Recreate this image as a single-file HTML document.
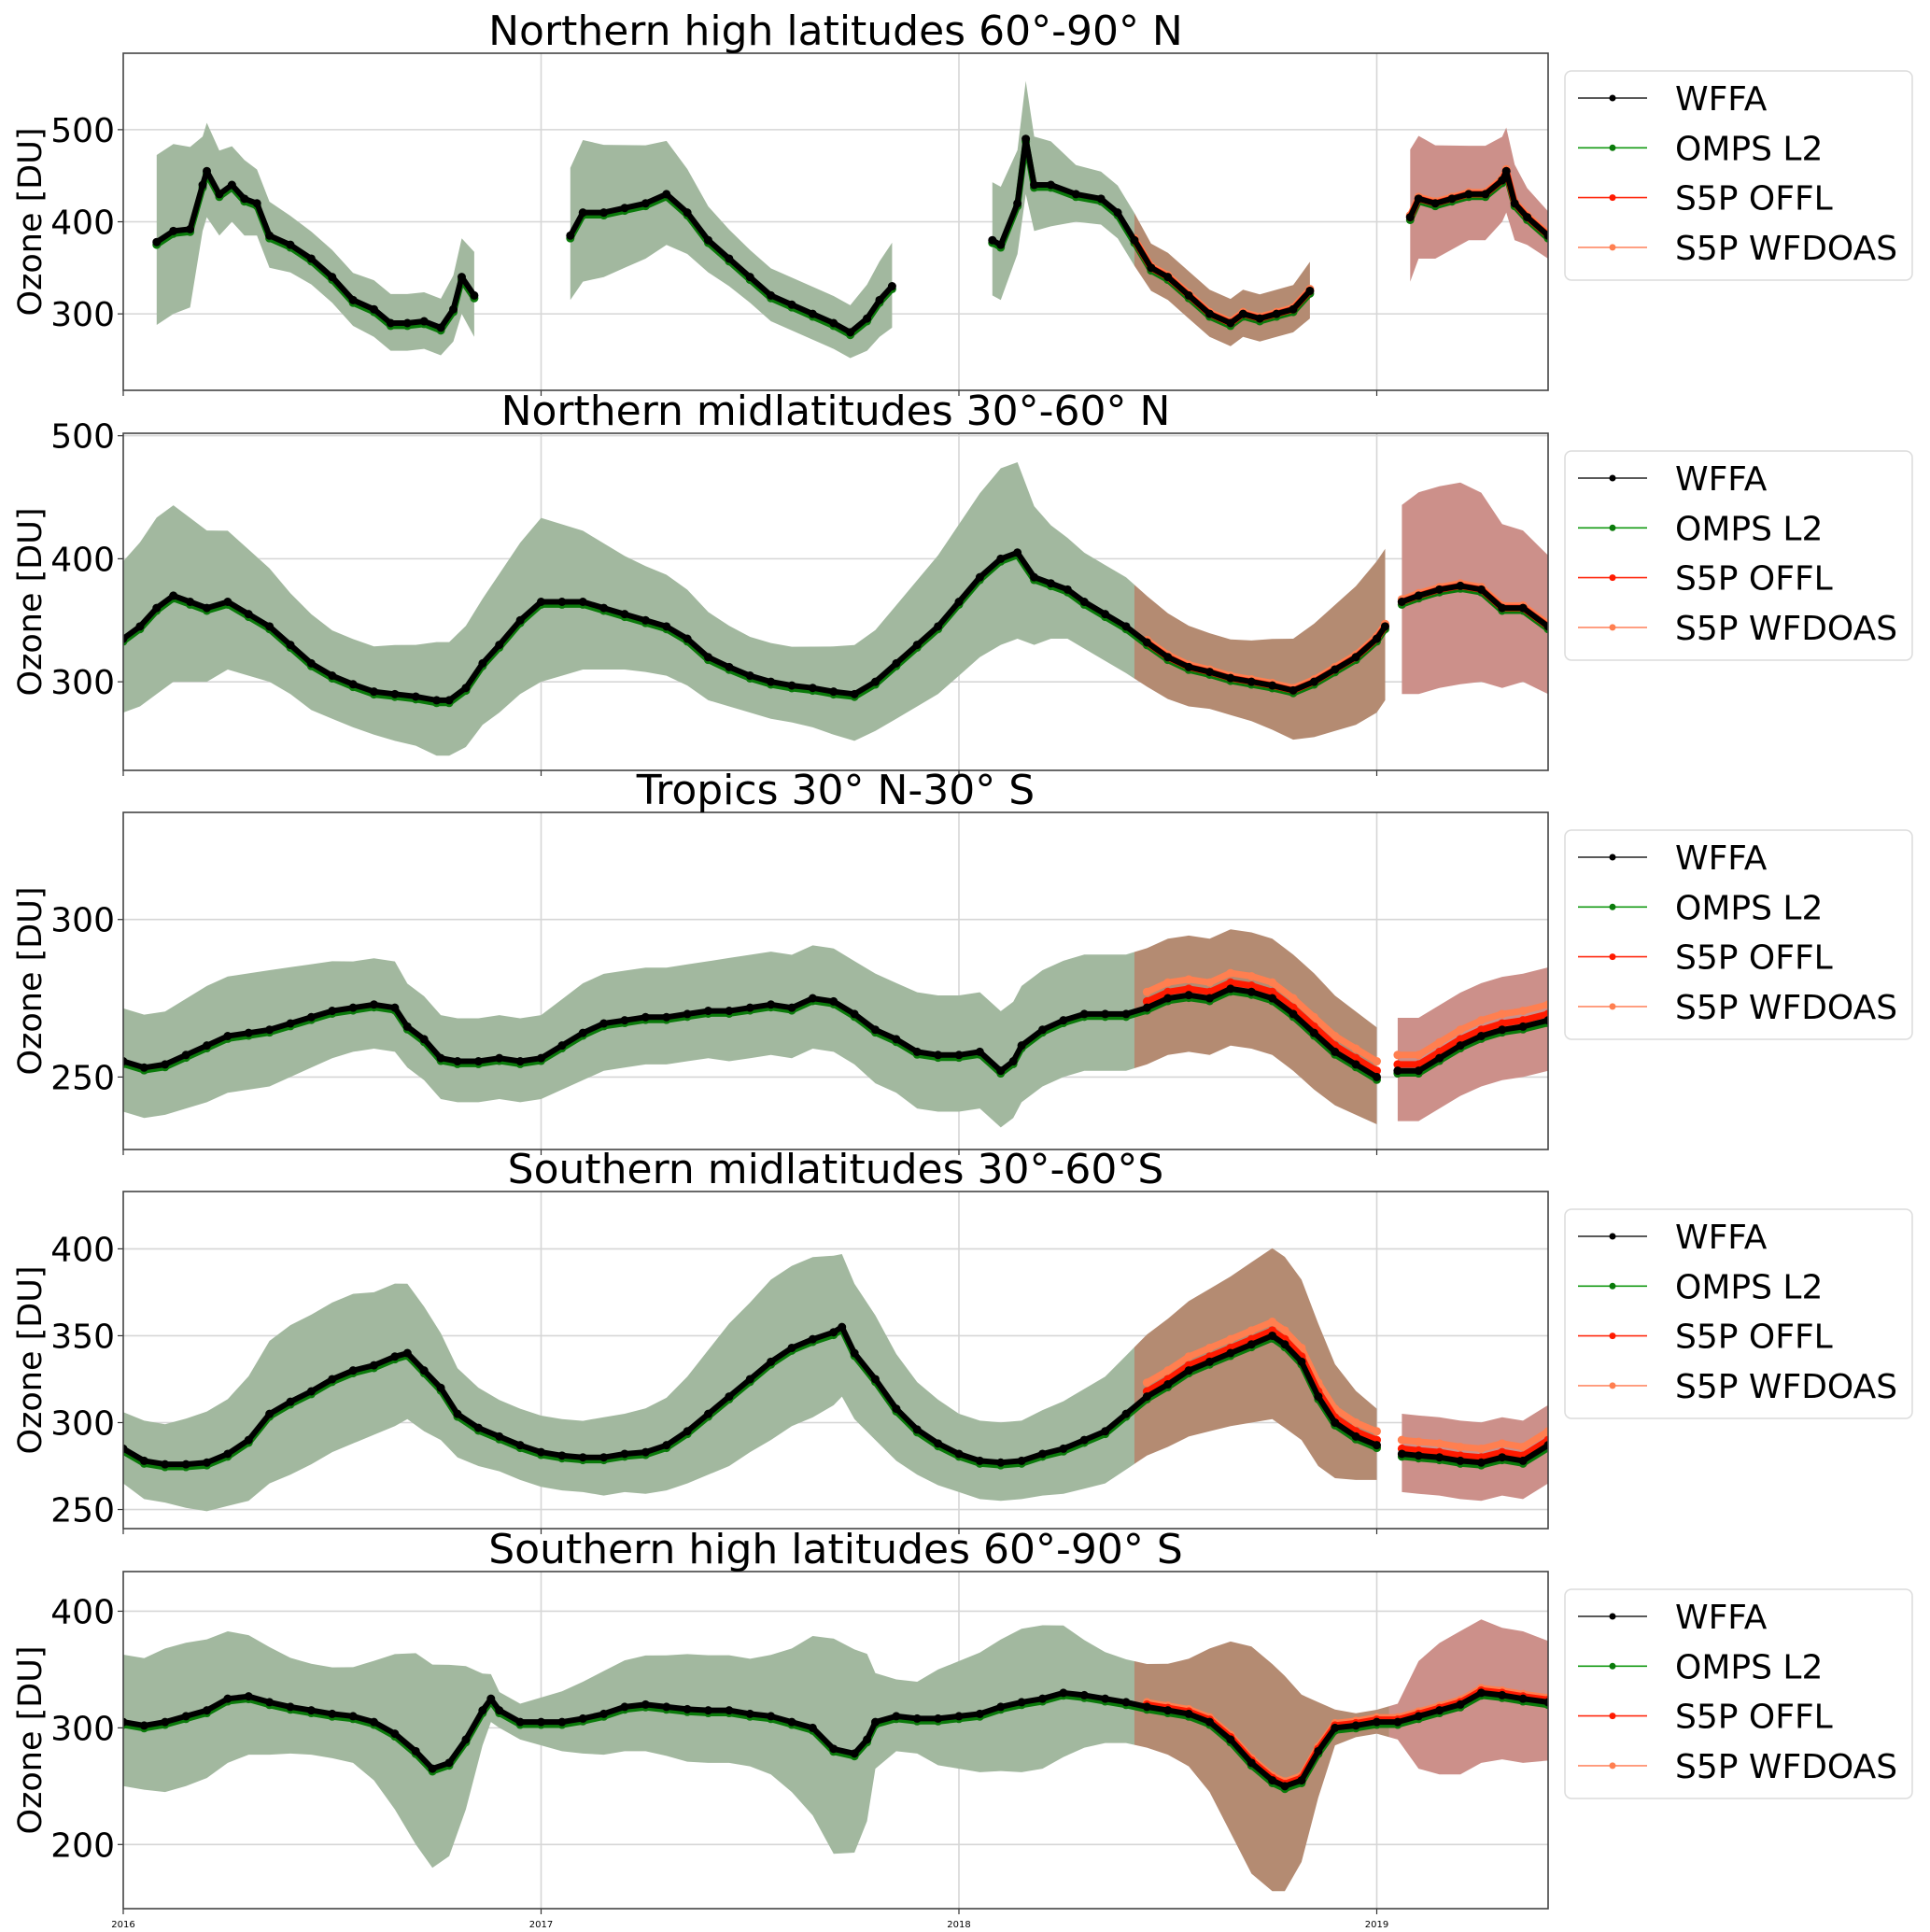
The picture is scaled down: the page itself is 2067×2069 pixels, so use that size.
<!DOCTYPE html>
<html><head><meta charset="utf-8"><style>
html,body{margin:0;padding:0;background:#fff;}
svg{display:block;font-family:"DejaVu Sans","Liberation Sans",sans-serif;}
</style></head><body>
<svg id="chart" width="2067" height="2069" viewBox="0 0 2067 2069" xmlns="http://www.w3.org/2000/svg"></svg>
<script>
// ---- data (time in years since 2016.0) ----
const yearLabels = ["2016","2017","2018","2019"];
const legendLabels = ["WFFA","OMPS L2","S5P OFFL","S5P WFDOAS"];
const panelTitles = ["Northern high latitudes 60\u00b0-90\u00b0 N","Northern midlatitudes 30\u00b0-60\u00b0 N","Tropics 30\u00b0 N-30\u00b0 S","Southern midlatitudes 30\u00b0-60\u00b0S","Southern high latitudes 60\u00b0-90\u00b0 S"];
const p1Ticks=[300,400,500], p2Ticks=[300,400,500], p3Ticks=[250,300], p4Ticks=[250,300,350,400], p5Ticks=[200,300,400];
const p1Range=[217,583], p2Range=[228,502], p3Range=[227,334], p4Range=[239,433], p5Range=[145,434];

const p1T=[0.08,0.12,0.16,0.19,0.2,0.23,0.26,0.29,0.32,0.35,0.4,0.45,0.5,0.55,0.6,0.64,0.68,0.72,0.76,0.79,0.81,0.84,0.9,
 1.07,1.1,1.15,1.2,1.25,1.3,1.35,1.4,1.45,1.5,1.55,1.6,1.65,1.7,1.74,1.78,1.81,1.84,1.9,
 2.08,2.1,2.14,2.16,2.18,2.22,2.28,2.34,2.38,2.42,2.46,2.5,2.55,2.6,2.65,2.68,2.72,2.76,2.8,2.84,2.9,
 3.08,3.1,3.14,3.18,3.22,3.26,3.3,3.31,3.33,3.36,3.41];
const p1W=[378,390,392,440,455,430,440,425,420,385,375,360,340,315,305,290,290,292,285,305,340,320,null,
 385,410,410,415,420,430,410,380,360,340,320,310,300,290,280,295,315,330,null,
 380,375,420,490,440,440,430,425,410,380,350,340,320,300,290,300,295,300,305,325,null,
 405,425,420,425,430,430,445,455,420,405,385];
const p1S=[90,90,85,50,50,45,40,40,35,35,30,28,28,28,30,30,30,30,30,35,40,45,0,
 70,75,70,65,60,55,45,35,30,28,28,28,28,28,28,35,40,45,0,
 60,60,55,60,50,45,30,28,28,28,25,25,25,25,25,25,25,25,25,30,0,
 70,65,60,55,50,50,45,45,40,30,25];

const p2T=[0,0.04,0.08,0.12,0.16,0.2,0.25,0.3,0.35,0.4,0.45,0.5,0.55,0.6,0.65,0.7,0.75,0.78,0.82,0.86,0.9,0.95,1.0,1.05,1.1,1.15,1.2,1.25,1.3,1.35,1.4,1.45,1.5,1.55,1.6,1.65,1.7,1.75,1.8,1.85,1.9,1.95,2.0,2.05,2.1,2.14,2.18,2.22,2.26,2.3,2.35,2.4,2.45,2.5,2.55,2.6,2.65,2.7,2.75,2.8,2.85,2.9,2.95,3.0,3.02,3.04,3.06,3.1,3.15,3.2,3.25,3.3,3.35,3.41];
const p2W=[335,345,360,370,365,360,365,355,345,330,315,305,298,292,290,288,285,285,295,315,330,350,365,365,365,360,355,350,345,335,320,312,305,300,297,295,292,290,300,315,330,345,365,385,400,405,385,380,375,365,355,345,332,320,312,308,303,300,297,293,300,310,320,335,345,null,365,370,375,378,375,360,360,345];
const p2S=[60,65,70,70,65,60,55,50,45,40,38,35,35,35,38,40,45,45,48,50,55,60,65,60,55,50,45,42,40,38,35,32,30,30,30,32,35,38,40,45,50,55,60,65,70,70,55,45,40,38,38,38,36,34,32,30,30,32,36,40,45,50,55,60,60,0,75,80,80,80,75,65,60,55];

const p3T=[0,0.05,0.1,0.15,0.2,0.25,0.3,0.35,0.4,0.45,0.5,0.55,0.6,0.65,0.68,0.72,0.76,0.8,0.85,0.9,0.95,1.0,1.05,1.1,1.15,1.2,1.25,1.3,1.35,1.4,1.45,1.5,1.55,1.6,1.65,1.7,1.75,1.8,1.85,1.9,1.95,2.0,2.05,2.1,2.13,2.15,2.2,2.25,2.3,2.35,2.4,2.45,2.5,2.55,2.6,2.65,2.7,2.75,2.8,2.85,2.9,2.95,3.0,3.03,3.05,3.1,3.15,3.2,3.25,3.3,3.35,3.41];
const p3W=[255,253,254,257,260,263,264,265,267,269,271,272,273,272,266,262,256,255,255,256,255,256,260,264,267,268,269,269,270,271,271,272,273,272,275,274,270,265,262,258,257,257,258,252,255,260,265,268,270,270,270,272,275,276,275,278,277,275,270,264,258,254,250,null,252,252,256,260,263,265,266,268];
const p3S=[16,16,16,17,18,18,18,18,17,16,15,14,14,14,13,13,13,13,13,13,13,13,14,15,15,15,15,15,15,15,16,16,16,16,16,16,16,17,17,18,18,18,18,18,18,18,18,18,18,18,18,18,18,18,18,18,18,18,18,18,17,16,15,0,16,16,16,16,16,16,16,16];

const p4T=[0,0.05,0.1,0.15,0.2,0.25,0.3,0.35,0.4,0.45,0.5,0.55,0.6,0.65,0.68,0.72,0.76,0.8,0.85,0.9,0.95,1.0,1.05,1.1,1.15,1.2,1.25,1.3,1.35,1.4,1.45,1.5,1.55,1.6,1.65,1.7,1.72,1.75,1.8,1.85,1.9,1.95,2.0,2.05,2.1,2.15,2.2,2.25,2.3,2.35,2.4,2.45,2.5,2.55,2.6,2.65,2.7,2.75,2.78,2.82,2.86,2.9,2.95,3.0,3.03,3.06,3.1,3.15,3.2,3.25,3.3,3.35,3.41];
const p4W=[285,278,276,276,277,282,290,305,312,318,325,330,333,338,340,330,320,305,297,292,287,283,281,280,280,282,283,287,295,305,315,325,335,343,348,352,355,340,325,308,296,288,282,278,277,278,282,285,290,295,305,315,322,330,335,340,345,350,345,335,315,300,292,287,null,282,281,280,278,277,280,278,287];
const p4S=[20,22,22,25,28,30,35,40,42,42,42,42,40,40,38,35,30,25,22,20,20,20,20,20,22,22,24,26,30,35,40,42,45,45,45,42,40,38,35,30,26,24,22,22,22,22,24,26,28,30,32,34,36,38,40,42,45,48,48,45,40,32,25,20,0,22,22,22,22,22,22,22,22];

const p5T=[0,0.05,0.1,0.15,0.2,0.25,0.3,0.35,0.4,0.45,0.5,0.55,0.6,0.65,0.7,0.74,0.78,0.82,0.86,0.88,0.9,0.95,1.0,1.05,1.1,1.15,1.2,1.25,1.3,1.35,1.4,1.45,1.5,1.55,1.6,1.65,1.7,1.75,1.78,1.8,1.85,1.9,1.95,2.0,2.05,2.1,2.15,2.2,2.25,2.3,2.35,2.4,2.45,2.5,2.55,2.6,2.65,2.7,2.75,2.78,2.82,2.86,2.9,2.95,3.0,3.05,3.1,3.15,3.2,3.25,3.3,3.35,3.41];
const p5W=[305,302,305,310,315,325,327,322,318,315,312,310,305,295,280,265,270,290,315,325,315,305,305,305,308,312,318,320,318,316,315,315,312,310,305,300,282,278,290,305,310,308,308,310,312,318,322,325,330,328,325,322,318,315,312,305,290,270,255,250,255,280,300,302,305,305,310,315,320,330,328,325,322];
const p5S=[55,55,60,60,58,55,50,45,40,38,38,40,50,65,80,85,80,60,30,20,15,15,20,25,30,35,38,40,42,45,45,45,45,50,60,75,90,85,70,40,30,30,40,45,50,55,60,60,55,45,38,35,35,38,45,60,80,95,95,90,70,40,15,10,10,15,45,55,60,60,55,55,50];

const s5pStart=[2.42,2.42,2.42,2.42,2.42];
const offlBias=[0,0,2,3,2];
const wfdoasBias=[2,2,5,8,4];
// ---- layout ----
const X0=132, YW=447.5;
const panelTops=[57,464,870,1276,1683], PH=361, PLEFT=132, PRIGHT=1658;
const panels=[
 {t:p1T,w:p1W,s:p1S,ticks:p1Ticks,r:p1Range},
 {t:p2T,w:p2W,s:p2S,ticks:p2Ticks,r:p2Range},
 {t:p3T,w:p3W,s:p3S,ticks:p3Ticks,r:p3Range},
 {t:p4T,w:p4W,s:p4S,ticks:p4Ticks,r:p4Range},
 {t:p5T,w:p5W,s:p5S,ticks:p5Ticks,r:p5Range}];
const NS="http://www.w3.org/2000/svg";
const svg=document.getElementById('chart');
function mk(tag,attrs,parent){const e=document.createElementNS(NS,tag);for(const k in attrs)e.setAttribute(k,attrs[k]);(parent||svg).appendChild(e);return e;}
const xs=t=>X0+t*YW;
function segments(T,W){const segs=[];let cur=[];for(let i=0;i<T.length;i++){if(W[i]==null){if(cur.length)segs.push(cur);cur=[];}else cur.push(i);}if(cur.length)segs.push(cur);return segs;}
const defs=mk('defs',{});
panels.forEach((p,pi)=>{
 const top=panelTops[pi], bot=top+PH;
 const ys=v=>bot-(v-p.r[0])/(p.r[1]-p.r[0])*PH;
 const g=mk('g',{});
 
 
 const cp=mk('clipPath',{id:'clip'+pi},defs);
 mk('rect',{x:PLEFT,y:top,width:PRIGHT-PLEFT,height:PH},cp);
 ['A','B','C'].forEach((k,j)=>{const c=mk('clipPath',{id:'clip'+pi+k},defs);
   const xa=j==0?PLEFT:(j==1?xs(s5pStart[pi]):xs(3.03)); const xb=j==0?xs(s5pStart[pi]):(j==1?xs(3.03):PRIGHT);
   mk('rect',{x:xa,y:top,width:xb-xa,height:PH},c);});
 // grid
 p.ticks.forEach(v=>{const l=mk('line',{x1:PLEFT,x2:PRIGHT,y1:ys(v),y2:ys(v),stroke:'#d6d6d6','stroke-width':1.6},g);
   
   mk('line',{x1:PLEFT-6,x2:PLEFT,y1:ys(v),y2:ys(v),stroke:'#333','stroke-width':1.2},g);
   const tx=mk('text',{x:PLEFT-9,y:ys(v)+13,'font-size':36,'text-anchor':'end',fill:'#000'},g);tx.textContent=v;
   });
 [1,2,3].forEach(yv=>{const l=mk('line',{x1:xs(yv),x2:xs(yv),y1:top,y2:bot,stroke:'#d6d6d6','stroke-width':1.6},g);
   });
 [0,1,2,3].forEach(yv=>{mk('line',{x1:xs(yv),x2:xs(yv),y1:bot,y2:bot+6,stroke:'#333','stroke-width':1.2},g);});
 // bands
 const segs=segments(p.t,p.w);
 const bandG=mk('g',{'clip-path':'url(#clip'+pi+')'},g);
 const fills=[['A','#a2b89f'],['B','#b48b72'],['C','#cc908a']];
 segs.forEach(seg=>{
   let d='';seg.forEach((i,k)=>{d+=(k?'L':'M')+xs(p.t[i]).toFixed(1)+','+ys(p.w[i]+p.s[i]*1.05).toFixed(1);});
   for(let k=seg.length-1;k>=0;k--){const i=seg[k];d+='L'+xs(p.t[i]).toFixed(1)+','+ys(p.w[i]-p.s[i]).toFixed(1);}d+='Z';
   fills.forEach(f=>{const b=mk('path',{d:d,fill:f[1],'clip-path':'url(#clip'+pi+f[0]+')'},bandG);
     });
 });
 // series lines
 const lineG=mk('g',{'clip-path':'url(#clip'+pi+')'},g);
 function drawSeries(offset,color,w,r,minT,name){
   segs.forEach(seg=>{const idx=seg.filter(i=>p.t[i]>=minT);if(!idx.length)return;
     const pts=idx.map(i=>xs(p.t[i]).toFixed(1)+','+ys(p.w[i]+offset).toFixed(1)).join(' ');
     const pl=mk('polyline',{points:pts,fill:'none',stroke:color,'stroke-width':w,'stroke-linejoin':'round','stroke-linecap':'round'},lineG);
     
     idx.forEach(i=>{const c=mk('circle',{cx:xs(p.t[i]),cy:ys(p.w[i]+offset),r:r,fill:color},lineG);
       });
   });}
 drawSeries(-(p.r[1]-p.r[0])*0.008,'#0a7a0a',7,4.5,-1,'omps-l2');
 drawSeries(wfdoasBias[pi],'#ff7f50',7,4.5,s5pStart[pi],'s5p-wfdoas');
 drawSeries(offlBias[pi],'#ff1a00',7,4.5,s5pStart[pi],'s5p-offl');
 drawSeries(0,'#000',6,4.5,-1,'wffa');
 // frame
 const fr=mk('rect',{x:PLEFT,y:top,width:PRIGHT-PLEFT,height:PH,fill:'none',stroke:'#444','stroke-width':1.6},g);
 
 const tt=mk('text',{x:(PLEFT+PRIGHT)/2,y:top-9,'font-size':44,'text-anchor':'middle',fill:'#000'},g);tt.textContent=panelTitles[pi];
 
 const yl=mk('text',{x:0,y:0,'font-size':35,'text-anchor':'middle',fill:'#000',transform:'translate(44,'+(top+PH/2)+') rotate(-90)'},g);yl.textContent='Ozone [DU]';
 
 // legend
 const lg=mk('g',{},g);
 
 mk('rect',{x:1676,y:top+19,width:372,height:224,rx:7,fill:'#fff',stroke:'#dcdcdc','stroke-width':1.5},lg);
 const lc=['#222','#139a13','#ff2a10','#ff8a66'], mc=['#000','#0a7a0a','#ff1a00','#ff7f50'];
 legendLabels.forEach((lab,k)=>{const yy=top+48+k*53.3;
   const e=mk('g',{},lg);
   mk('line',{x1:1690,x2:1764,y1:yy,y2:yy,stroke:lc[k],'stroke-width':1.6},e);
   mk('circle',{cx:1727,cy:yy,r:3.5,fill:mc[k]},e);
   const tx=mk('text',{x:1794,y:yy+13,'font-size':36,fill:'#000'},e);tx.textContent=lab;});
 if(pi==4){yearLabels.forEach((yl2,k)=>{const tx=mk('text',{x:xs(k),y:bot+20,'font-size':10,'text-anchor':'middle',fill:'#000'},g);tx.textContent=yl2;
   });}
});
</script>
</body></html>
